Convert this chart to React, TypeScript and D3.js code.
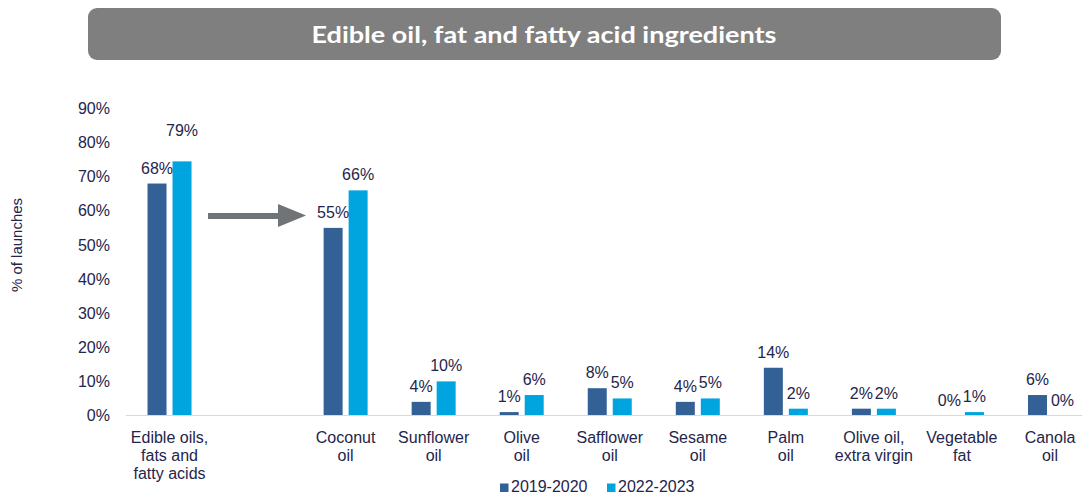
import React from "react";
import * as d3 from "d3";

const categories: string[][] = [
  ["Edible oils,", "fats and", "fatty acids"],
  [],
  ["Coconut", "oil"],
  ["Sunflower", "oil"],
  ["Olive", "oil"],
  ["Safflower", "oil"],
  ["Sesame", "oil"],
  ["Palm", "oil"],
  ["Olive oil,", "extra virgin"],
  ["Vegetable", "fat"],
  ["Canola", "oil"],
];
const series = ["2019-2020", "2022-2023"];
const values2019: (number | null)[] = [68, null, 55, 4, 1, 8, 4, 14, 2, 0, 6];
const values2022: (number | null)[] = [79, null, 66, 10, 6, 5, 5, 2, 2, 1, 0];
// bar heights as drawn in the picture (the first 2022-2023 bar is drawn shorter than its label)
const drawn2022: (number | null)[] = [74.5, null, 66, 10, 6, 5, 5, 2, 2, 1, 0];
const yTicks = [0, 10, 20, 30, 40, 50, 60, 70, 80, 90];
const title = "Edible oil, fat and fatty acid ingredients";
const yTitle = "% of launches";

const C_DARK = "#336195";
const C_LIGHT = "#00A5DF";
const TXT = "#25254b";
const FONT = "'Liberation Sans', Arial, sans-serif";

export default function App() {
  const W = 1082,
    H = 495;
  const x = d3
    .scaleBand<number>()
    .domain(categories.map((_, i) => i))
    .range([125.5, 1094])
    .padding(0);
  const y = d3.scaleLinear().domain([0, 90]).range([415.5, 108.5]);
  const bw = 19;
  const gap = 3;

  const cx = (i: number) => (x(i) as number) + x.bandwidth() / 2;

  return (
    <svg
      width={W}
      height={H}
      style={{ position: "absolute", left: 0, top: 0, background: "#fff" }}
      fontFamily={FONT}
    >
      {/* title box */}
      <rect x={88} y={8} width={913} height={52} rx={9} ry={9} fill="#7f7f7f" />
      <text
        x={544}
        y={43}
        textAnchor="middle"
        fill="#fff"
        fontFamily="Lato, 'Open Sans', sans-serif"
        fontWeight={700}
        fontSize={23}
        textLength={465}
        lengthAdjust="spacingAndGlyphs"
      >
        {title}
      </text>

      {/* y-axis title */}
      <text
        transform={`translate(22,245) rotate(-90)`}
        textAnchor="middle"
        fontSize={15}
        fill={TXT}
      >
        {yTitle}
      </text>

      {/* y tick labels */}
      {yTicks.map((t) => (
        <text
          key={t}
          x={110}
          y={y(t)}
          dy="0.35em"
          textAnchor="end"
          fontSize={16}
          fill={TXT}
        >
          {t}%
        </text>
      ))}

      {/* bars */}
      {categories.map((_, i) => {
        const v1 = values2019[i];
        const v2 = drawn2022[i];
        const c = cx(i);
        return (
          <g key={i}>
            {v1 !== null && (
              <rect
                x={c - gap - bw}
                y={y(v1)}
                width={bw}
                height={y(0) - y(v1)}
                fill={C_DARK}
              />
            )}
            {v2 !== null && (
              <rect
                x={c + gap}
                y={y(v2)}
                width={bw}
                height={y(0) - y(v2)}
                fill={C_LIGHT}
              />
            )}
          </g>
        );
      })}

      {/* x axis line */}
      <line x1={126} x2={1082} y1={415.5} y2={415.5} stroke="#d9d9d9" strokeWidth={1} />

      {/* data labels */}
      {categories.map((_, i) => {
        const v1 = values2019[i];
        const v2 = values2022[i];
        const c = cx(i);
        return (
          <g key={"l" + i} fontSize={16} fill={TXT} textAnchor="middle">
            {v1 !== null && (
              <text x={c - gap - bw / 2} y={y(v1) - 10}>
                {v1}%
              </text>
            )}
            {v2 !== null && (
              <text x={c + gap + bw / 2} y={y(v2) - 10}>
                {v2}%
              </text>
            )}
          </g>
        );
      })}

      {/* x category labels */}
      {categories.map((lines, i) => (
        <text key={"c" + i} textAnchor="middle" fontSize={16} fill={TXT}>
          {lines.map((ln, k) => (
            <tspan key={k} x={cx(i)} y={443 + k * 18}>
              {ln}
            </tspan>
          ))}
        </text>
      ))}

      {/* arrow */}
      <g fill="#717476">
        <rect x={208} y={213} width={72} height={6} />
        <path d="M278,204 L306,215.5 L278,227 Z" />
      </g>

      {/* legend */}
      {series.map((s, k) => {
        const lx = k === 0 ? 500 : 607;
        return (
          <g key={s}>
            <rect x={lx} y={483.5} width={8.5} height={8.5} fill={k === 0 ? C_DARK : C_LIGHT} />
            <text x={lx + 11} y={491.5} fontSize={16} fill={TXT}>
              {s}
            </text>
          </g>
        );
      })}
    </svg>
  );
}
